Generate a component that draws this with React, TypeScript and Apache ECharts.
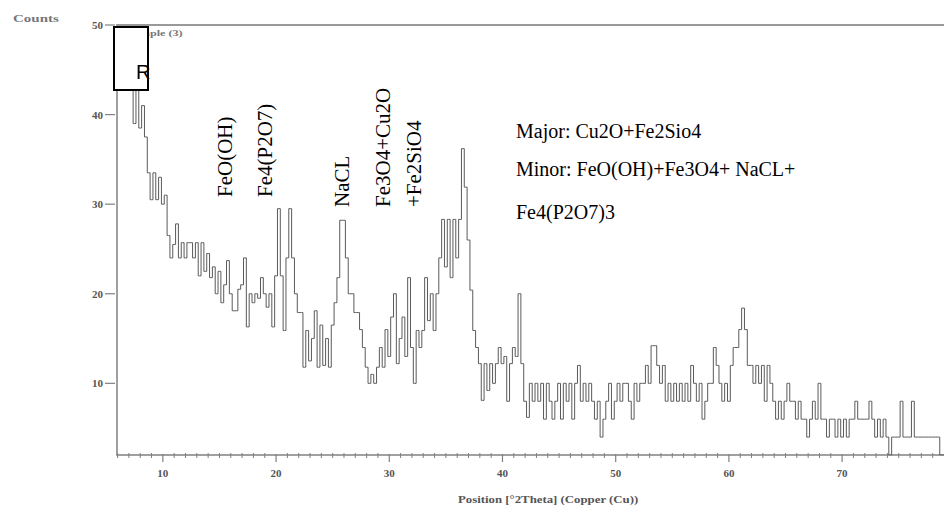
import React, { useEffect, useRef } from "react";
import * as echarts from "echarts";

// 2θ sampling of the pattern
const tthStart = 6;
const tthStep = 0.25;

// Counts, one value per 0.25° from 6.00° to 79.00°
const counts: number[] = [
  46, 47, 45, 46, // 6
  44, 45, 39, 43, // 7
  38.5, 41, 37.5, 33.5, // 8
  30.5, 33.5, 30.5, 33, // 9
  30, 31, 26.5, 24, // 10
  25.5, 27.8, 24, 25.7, // 11
  24, 25.7, 25.7, 24, // 12
  25.7, 22, 25.7, 22.5, // 13
  24.5, 21.8, 23, 20, // 14
  22.5, 19, 21, 23.7, // 15
  20, 18.1, 18.1, 20.5, // 16
  21, 24, 16.3, 20, // 17
  19, 20, 19.5, 21.8, // 18
  20, 18.5, 20, 16.3, // 19
  22, 29.5, 22, 15.9, // 20
  24, 29.5, 24, 20, // 21
  17.9, 17.9, 11.8, 15.9, // 22
  12.5, 15, 18.1, 11.8, // 23
  16.5, 12, 15, 11.8, // 24
  16.5, 19, 21.8, 28.2, // 25
  28.2, 24, 20, 20, // 26
  17.9, 17.9, 16, 14, // 27
  11.8, 10, 11, 10, // 28
  11.8, 14, 11.8, 16, // 29
  13, 17.4, 20, 12.2, // 30
  15, 17.4, 13, 21.8, // 31
  14, 10, 15.9, 14, // 32
  15.9, 21.8, 17, 20, // 33
  15.9, 20, 24, 28.3, // 34
  23, 28.3, 21.8, 28.3, // 35
  24, 28.3, 36.2, 31.9, // 36
  26, 20.4, 15.9, 14, // 37
  12.2, 8.1, 12.2, 9.2, // 38
  12.2, 10, 12.2, 14, // 39
  12.2, 13, 8, 12.2, // 40
  14, 13, 20, 12.2, // 41
  8, 6.2, 10, 8, // 42
  10, 8, 10, 6, // 43
  10, 8, 6, 8, // 44
  10, 6, 10, 8, // 45
  10, 6, 10, 12, // 46
  8, 10, 8, 10, // 47
  8, 6, 8, 4, // 48
  6, 8, 10, 6, // 49
  8, 10, 8, 10, // 50
  10, 8, 6, 10, // 51
  8, 10, 10, 12, // 52
  10, 14.2, 14.2, 12, // 53
  10, 12, 8, 10, // 54
  8, 10, 8, 10, // 55
  8, 10, 8, 12, // 56
  10, 8, 10, 6, // 57
  8, 10, 10, 14, // 58
  12, 10, 8, 10, // 59
  8, 12, 14, 14, // 60
  16, 18.4, 16, 12, // 61
  12, 10, 12, 10, // 62
  12, 8, 12, 10, // 63
  8, 6, 8, 6, // 64
  8, 10, 8, 8, // 65
  6, 8, 6, 6, // 66
  4, 6, 8, 6, // 67
  10, 6, 6, 4, // 68
  6, 6, 4, 6, // 69
  4, 6, 4, 6, // 70
  6, 8, 6, 6, // 71
  6, 6, 8, 6, // 72
  4, 6, 4, 6, // 73
  4, 2, 4, 4, // 74
  4, 8, 4, 4, // 75
  4, 8, 4, 4, // 76
  4, 4, 4, 4, // 77
  4, 4, 4, 2, // 78
  2, // 79
];

const xTickLabels = [10, 20, 30, 40, 50, 60, 70];
const xMinorTicks = [
  6, 7, 8, 9, 11, 12, 13, 14, 15, 16, 17, 18, 19, 21, 22, 23, 24, 25, 26, 27,
  28, 29, 31, 32, 33, 34, 35, 36, 37, 38, 39, 41, 42, 43, 44, 45, 46, 47, 48,
  49, 51, 52, 53, 54, 55, 56, 57, 58, 59, 61, 62, 63, 64, 65, 66, 67, 68, 69,
  71, 72, 73, 74, 75, 76, 77, 78,
];
const yTickLabels = [10, 20, 30, 40, 50];

const peakLabels = ["FeO(OH)", "Fe4(P2O7)", "NaCL", "Fe3O4+Cu2O", "+Fe2SiO4"];
const phaseLines = [
  "Major: Cu2O+Fe2Sio4",
  "Minor: FeO(OH)+Fe3O4+ NaCL+",
  "Fe4(P2O7)3",
];
const yAxisName = "Counts";
const xAxisName = "Position [°2Theta] (Copper (Cu))";
const sampleTitle = "Sample (3)";
const boxLetter = "R";

export default function App() {
  const ref = useRef<HTMLDivElement>(null);

  useEffect(() => {
    if (!ref.current) return;
    const chart = echarts.init(ref.current, null, { renderer: "svg" });
    const data = counts.map((c, i) => [tthStart + i * tthStep, c]);
    const axisColor = "#808080";
    const labelFont = {
      fontFamily: "Liberation Serif",
      fontWeight: "bold" as const,
      fontSize: 11,
      color: "#555",
    };

    chart.setOption({
      animation: false,
      backgroundColor: "#fff",
      grid: { left: 117, right: 0, top: 25, bottom: 54, containLabel: false },
      xAxis: [
        {
          type: "value",
          min: 5.95,
          max: 79,
          position: "bottom",
          axisLine: { show: true, lineStyle: { color: axisColor, width: 1.5 } },
          axisTick: { show: false },
          axisLabel: {
            show: true,
            customValues: xTickLabels,
            margin: 12,
            ...labelFont,
          },
          splitLine: { show: false },
        },
        {
          type: "value",
          min: 5.95,
          max: 79,
          position: "top",
          axisLine: { show: true, lineStyle: { color: "#999", width: 2 } },
          axisTick: { show: false },
          axisLabel: { show: false },
          splitLine: { show: false },
        },
      ],
      yAxis: {
        type: "value",
        min: 2,
        max: 50,
        axisLine: { show: true, lineStyle: { color: axisColor, width: 1.5 } },
        axisTick: { show: false },
        axisLabel: {
          show: true,
          customValues: yTickLabels,
          margin: 14,
          ...labelFont,
        },
        splitLine: { show: false },
      },
      series: [
        {
          type: "line",
          xAxisIndex: 0,
          data,
          step: "middle",
          symbol: "none",
          lineStyle: { color: "#5a5a5a", width: 1 },
          silent: true,
        },
      ],
    });

    const peakX = [225, 265, 342, 383, 414];
    const peakY = [197, 197, 207, 207, 207];
    const phaseY = [131, 169, 212];
    const axisY = chart.convertToPixel({ yAxisIndex: 0 }, 2) as number;
    const axisX = chart.convertToPixel({ xAxisIndex: 0 }, 5.95) as number;

    const graphic: any[] = [];
    // ticks drawn through the axes' own scales
    xTickLabels.forEach((v) => {
      const px = chart.convertToPixel({ xAxisIndex: 0 }, v) as number;
      graphic.push({
        type: "line",
        shape: { x1: px, y1: axisY - 1, x2: px, y2: axisY + 7 },
        style: { stroke: axisColor, lineWidth: 1.2 },
      });
    });
    xMinorTicks.forEach((v) => {
      const px = chart.convertToPixel({ xAxisIndex: 0 }, v) as number;
      graphic.push({
        type: "line",
        shape: { x1: px, y1: axisY - 2, x2: px, y2: axisY + 3 },
        style: { stroke: axisColor, lineWidth: 1 },
      });
    });
    yTickLabels.forEach((v) => {
      const py = chart.convertToPixel({ yAxisIndex: 0 }, v) as number;
      graphic.push({
        type: "line",
        shape: { x1: axisX - 12, y1: py, x2: axisX - 2, y2: py },
        style: { stroke: axisColor, lineWidth: 1.2 },
      });
    });

    graphic.push(
      {
        type: "text",
        x: 13,
        y: 19,
        scaleX: 1.5,
        style: {
          text: yAxisName,
          fontFamily: "Liberation Serif",
          fontWeight: "bold",
          fontSize: 10,
          fill: "#777",
          align: "left",
          verticalAlign: "middle",
        },
      },
      {
        type: "text",
        x: 458,
        y: 500,
        scaleX: 1.35,
        style: {
          text: xAxisName,
          fontFamily: "Liberation Serif",
          fontWeight: "bold",
          fontSize: 9.5,
          fill: "#555",
          align: "left",
          verticalAlign: "middle",
        },
      },
      {
        type: "text",
        x: 127,
        y: 33,
        scaleX: 1.35,
        z: 50,
        style: {
          text: sampleTitle,
          fontFamily: "Liberation Serif",
          fontWeight: "bold",
          fontSize: 9,
          fill: "#777",
          align: "left",
          verticalAlign: "middle",
        },
      },
      {
        type: "rect",
        z: 100,
        shape: { x: 114, y: 27, width: 34, height: 63 },
        style: { fill: "#fff", stroke: "#000", lineWidth: 2 },
      },
      {
        type: "text",
        x: 136,
        y: 72,
        z: 101,
        style: {
          text: boxLetter,
          fontFamily: "Liberation Sans",
          fontSize: 20,
          fill: "#000",
          align: "left",
          verticalAlign: "middle",
        },
      }
    );
    peakLabels.forEach((t, i) => {
      graphic.push({
        type: "text",
        x: peakX[i],
        y: peakY[i],
        rotation: Math.PI / 2,
        z: 60,
        style: {
          text: t,
          fontFamily: "Liberation Serif",
          fontSize: 21,
          fill: "#000",
          align: "left",
          verticalAlign: "middle",
        },
      });
    });
    phaseLines.forEach((t, i) => {
      graphic.push({
        type: "text",
        x: 516,
        y: phaseY[i],
        z: 60,
        style: {
          text: t,
          fontFamily: "Liberation Serif",
          fontSize: 20,
          fill: "#000",
          align: "left",
          verticalAlign: "middle",
        },
      });
    });

    chart.setOption({ graphic });
    return () => chart.dispose();
  }, []);

  return (
    <div
      ref={ref}
      style={{ position: "absolute", left: 0, top: 0, width: 944, height: 509 }}
    />
  );
}
